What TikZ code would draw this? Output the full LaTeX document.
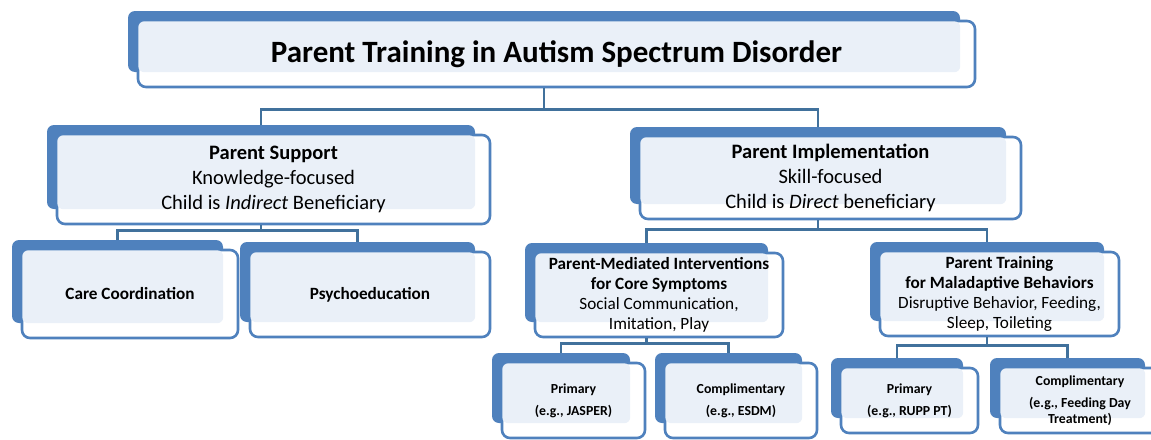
\documentclass[tikz,border=0pt]{standalone}
\usepackage{fontspec}
\setmainfont{Carlito}
\usetikzlibrary{fit}
\definecolor{bkblue}{HTML}{4F81BD}
\definecolor{ltfill}{HTML}{EAF0F8}
\definecolor{lnblue}{HTML}{41719C}
\tikzset{
  backbox/.style={fill=bkblue, draw=none, rounded corners=7pt, inner sep=0pt},
  frontbox/.style={fill=white, draw=bkblue, line width=2.6pt, rounded corners=8pt, inner sep=0pt},
  lightfill/.style={fill=ltfill, rounded corners=6pt},
  conn/.style={draw=lnblue, line width=2.6pt},
  lbl/.style={align=center, text=black, inner sep=0pt},
  ttl/.style={lbl, font=\fontsize{31}{36}\selectfont\bfseries},
  mid/.style={lbl, font=\fontsize{20.5}{25}\selectfont},
  leaf/.style={lbl, font=\fontsize{17.2}{20}\selectfont\bfseries},
  sub/.style={lbl, font=\fontsize{17.2}{19.8}\selectfont},
  small/.style={lbl, font=\fontsize{13.8}{15.5}\selectfont\bfseries},
}
\newcommand{\tbox}[7]{%
  \node[backbox, fit={(#2,#3) (#4,#5)}] (#1B) {};
  \node[frontbox, fit={({#2+10},{#3+10}) ({#4+15},{#5+15})}] (#1F) {};
  \fill[lightfill] ([shift={(1.6,1.6)}]#1F.north west) rectangle (#1B.south east);
  \node[#6] (#1T) at (#1F.center) {#7};
}
\begin{document}
\begin{tikzpicture}[x=1pt, y=-1pt]
\useasboundingbox (0,0) rectangle (1151,439);
\fill[white] (0,0) rectangle (1151,439);

\tbox{t}{128}{11}{960}{72}{ttl}{Parent Training in Autism Spectrum Disorder}
\tbox{ps}{47}{125}{475}{209}{mid}{\textbf{Parent Support}\\Knowledge-focused\\Child is \textit{Indirect} Beneficiary}
\tbox{pi}{630}{127}{1006}{204}{mid}{\textbf{Parent Implementation}\\Skill-focused\\Child is \textit{Direct} beneficiary}
\tbox{cc}{12}{240}{223}{323}{leaf}{Care Coordination}
\tbox{psy}{240}{242}{475}{322}{leaf}{Psychoeducation}
\tbox{pm}{525}{243}{768}{322}{sub}{\textbf{Parent-Mediated Interventions}\\\textbf{for Core Symptoms}\\Social Communication,\\Imitation, Play}
\tbox{pt}{870}{242}{1104}{321}{sub}{\textbf{Parent Training}\\\textbf{for Maladaptive Behaviors}\\Disruptive Behavior, Feeding,\\Sleep, Toileting}
\tbox{ja}{492}{353}{630}{423}{small}{Primary\\[6.5pt](e.g., JASPER)}
\tbox{es}{655}{353}{802}{423}{small}{Complimentary\\[6.5pt](e.g., ESDM)}
\tbox{ru}{831}{358}{963}{418}{small}{Primary\\[6.5pt](e.g., RUPP PT)}
\tbox{fe}{990}{358}{1145}{418}{small}{Complimentary\\[6.5pt](e.g., Feeding Day\\Treatment)}

\draw[conn] (tB.south |- tF.south) -- ++(0,21) -| (psB.north);
\draw[conn] (tB.south |- tF.south) -- ++(0,21) -| (piB.north);
\draw[conn] (psB.south |- psF.south) -- ++(0,5) -| (ccB.north);
\draw[conn] (psB.south |- psF.south) -- ++(0,5) -| (psyB.north);
\draw[conn] (piB.south |- piF.south) -- ++(0,9) -| (pmB.north);
\draw[conn] (piB.south |- piF.south) -- ++(0,9) -| (ptB.north);
\draw[conn] (pmB.south |- pmF.south) -- ++(0,5) -| (jaB.north);
\draw[conn] (pmB.south |- pmF.south) -- ++(0,5) -| (esB.north);
\draw[conn] (ptB.south |- ptF.south) -- ++(0,8) -| (ruB.north);
\draw[conn] (ptB.south |- ptF.south) -- ++(0,8) -| (feB.north);
\end{tikzpicture}
\end{document}
